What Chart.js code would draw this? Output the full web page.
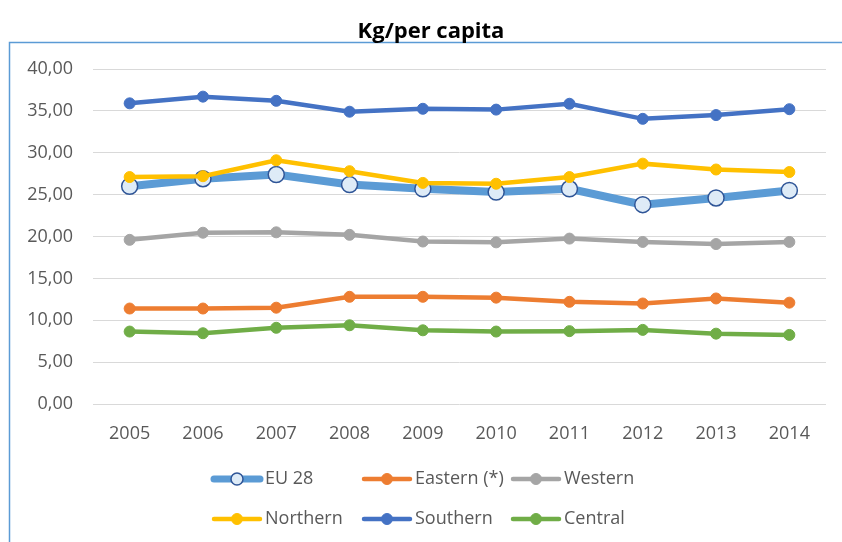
<!DOCTYPE html>
<html>
<head>
<meta charset="utf-8">
<script src="https://cdn.jsdelivr.net/npm/chart.js@4/dist/chart.umd.min.js"></script>
<style>
  html, body { margin: 0; padding: 0; background: #fff; }
  #wrap { width: 842px; height: 542px; position: relative; }
</style>
</head>
<body>
<div id="wrap"><canvas id="kgChart" width="842" height="542"></canvas></div>
<script>
const years = ["2005", "2006", "2007", "2008", "2009", "2010", "2011", "2012", "2013", "2014"];
const eu28 = [26.0, 26.9, 27.4, 26.2, 25.7, 25.3, 25.7, 23.8, 24.6, 25.5];
const eastern = [11.4, 11.4, 11.5, 12.8, 12.8, 12.7, 12.2, 12.0, 12.6, 12.1];
const western = [19.6, 20.45, 20.5, 20.2, 19.4, 19.3, 19.75, 19.35, 19.1, 19.35];
const northern = [27.1, 27.2, 29.1, 27.8, 26.4, 26.3, 27.1, 28.7, 28.0, 27.7];
const southern = [35.9, 36.7, 36.2, 34.9, 35.25, 35.15, 35.85, 34.05, 34.5, 35.2];
const central = [8.65, 8.45, 9.1, 9.4, 8.8, 8.65, 8.7, 8.85, 8.4, 8.25];
const yTicksMin = 0, yTicksMax = 40, yTicksStep = 5;

document.addEventListener("DOMContentLoaded", () => {
  const ctx = document.getElementById("kgChart").getContext("2d");
  const font = "'Open Sans', 'DejaVu Sans', sans-serif";

  const simple = (label, data, color, order) => ({
    label: label,
    data: data,
    borderColor: color,
    backgroundColor: color,
    pointBackgroundColor: color,
    pointBorderColor: color,
    borderWidth: 4.5,
    pointRadius: 5.5,
    pointBorderWidth: 1,
    tension: 0,
    order: order,
  });

  const euSet = {
    label: "EU 28",
    data: eu28,
    borderColor: "#5B9BD5",
    backgroundColor: "#5B9BD5",
    pointBackgroundColor: "#DEEBF7",
    pointBorderColor: "#2F5597",
    borderWidth: 8,
    pointRadius: 8,
    pointBorderWidth: 1.5,
    tension: 0,
    order: 6,
  };

  // frame, title and a 3-column legend like the Excel one
  const decor = {
    id: "decor",
    beforeDraw(chart) {
      const c = chart.ctx;
      c.save();
      c.strokeStyle = "#5B9BD5";
      c.lineWidth = 1.5;
      c.beginPath();
      c.moveTo(842, 42.5);
      c.lineTo(9.5, 42.5);
      c.lineTo(9.5, 542);
      c.stroke();
      c.fillStyle = "#000";
      c.font = "bold 22px " + font;
      c.textAlign = "center";
      c.textBaseline = "alphabetic";
      c.fillText("Kg/per capita", 431, 38);
      c.restore();
    },
    afterDraw(chart) {
      const c = chart.ctx;
      const cols = [212, 362, 511];
      const rows = [479, 519];
      c.save();
      c.font = "18px " + font;
      c.textBaseline = "middle";
      c.textAlign = "left";
      chart.data.datasets.forEach((ds, i) => {
        const x = cols[i % 3];
        const y = rows[Math.floor(i / 3)];
        c.strokeStyle = ds.borderColor;
        c.lineWidth = ds.borderWidth > 5 ? 7 : 4.5;
        c.lineCap = "round";
        c.beginPath();
        c.moveTo(x + 2, y);
        c.lineTo(x + 48, y);
        c.stroke();
        c.beginPath();
        c.arc(x + 25, y, ds.pointRadius > 6 ? 6 : 5.5, 0, Math.PI * 2);
        c.fillStyle = ds.pointBackgroundColor;
        c.fill();
        c.lineWidth = ds.pointBorderWidth;
        c.strokeStyle = ds.pointBorderColor;
        c.stroke();
        c.fillStyle = "#595959";
        c.fillText(ds.label, x + 53, y);
      });
      c.restore();
    },
  };

  new Chart(ctx, {
    type: "line",
    data: {
      labels: years,
      datasets: [
        euSet,
        simple("Eastern (*)", eastern, "#ED7D31", 5),
        simple("Western", western, "#A5A5A5", 4),
        simple("Northern", northern, "#FFC000", 3),
        simple("Southern", southern, "#4472C4", 2),
        simple("Central", central, "#70AD47", 1),
      ],
    },
    options: {
      responsive: false,
      animation: false,
      layout: { padding: { top: 69, right: 16, bottom: 88, left: 10 } },
      plugins: {
        legend: { display: false },
        title: { display: false },
        tooltip: { enabled: false },
      },
      scales: {
        x: {
          offset: true,
          grid: { display: false, drawTicks: false },
          border: { display: false },
          ticks: { color: "#595959", font: { family: font, size: 18 }, padding: 19, maxRotation: 0 },
          afterFit: (scale) => { scale.height = 50; },
        },
        y: {
          min: yTicksMin,
          max: yTicksMax,
          grid: { color: "#D9D9D9", lineWidth: 1, drawTicks: false },
          border: { display: false },
          ticks: {
            stepSize: yTicksStep,
            color: "#595959",
            font: { family: font, size: 18 },
            padding: 20,
            callback: (v) => v.toFixed(2).replace(".", ","),
          },
          afterFit: (scale) => { scale.width = 83; },
        },
      },
    },
    plugins: [decor],
  });
});
</script>
</body>
</html>
